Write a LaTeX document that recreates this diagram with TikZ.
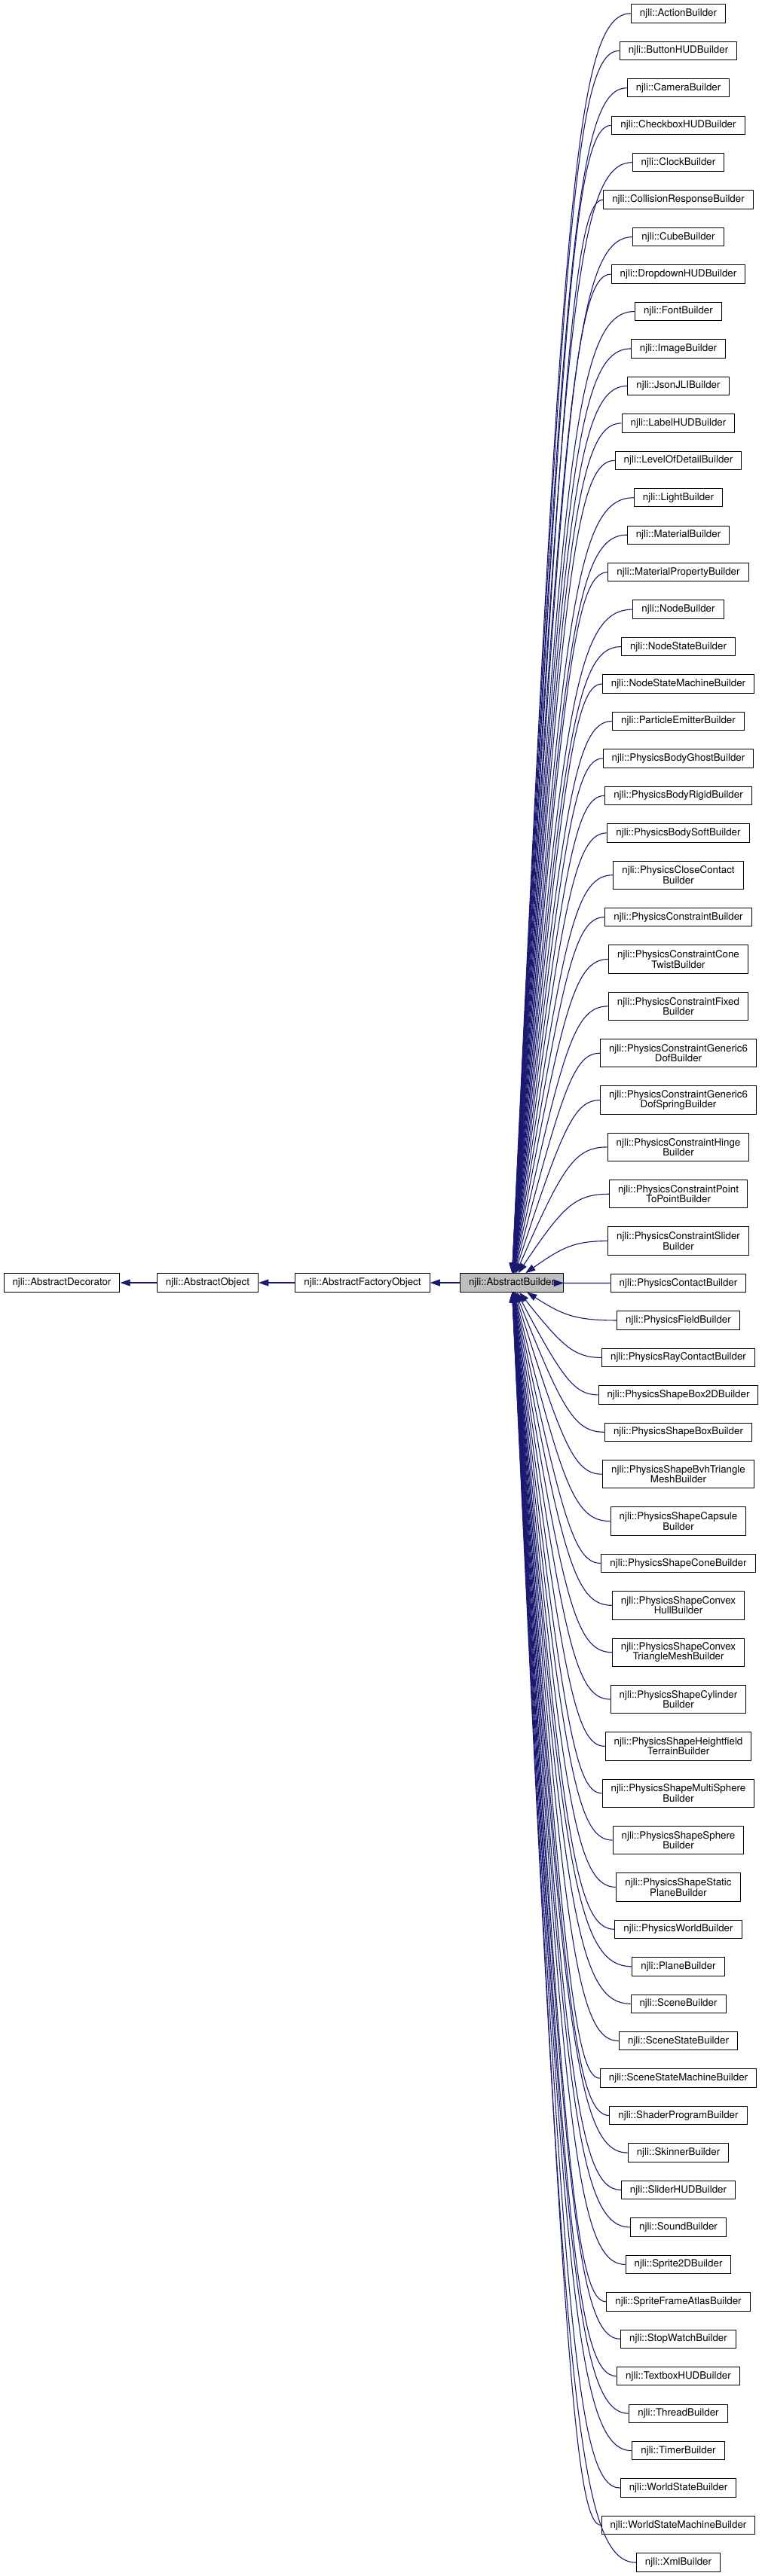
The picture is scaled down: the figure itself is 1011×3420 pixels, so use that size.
\documentclass[tikz,border=0pt]{standalone}
\usepackage{fontspec}
\setmainfont{TeX Gyre Heros}
\usetikzlibrary{arrows.meta}
\definecolor{edgeblue}{HTML}{191970}
\definecolor{currentgrey}{HTML}{BFBFBF}

\begin{document}
\begin{tikzpicture}[x=1pt, y=-1pt,
    classbox/.style={draw=black, line width=1pt, fill=white, align=center,
      inner xsep=11.5pt, inner ysep=2pt, minimum height=24.4pt,
      font=\fontsize{13.33}{13.33}\selectfont},
    current/.style={classbox, fill=currentgrey},
    inherit/.style={edgeblue, line width=1.1pt,
      {Triangle[length=13.3pt, width=9pt]}-}]

  \useasboundingbox (0,0) rectangle (1011,3420);

  %% the chain of base classes
  \node[classbox] (decorator) at (82,1703) {njli::AbstractDecorator};
  \node[classbox] (object) at (275.5,1703) {njli::AbstractObject};
  \node[classbox] (factory) at (481,1703) {njli::AbstractFactoryObject};
  \node[current] (builder) at (679,1703) {njli::AbstractBuilder};

  \draw[inherit] (decorator) -- (object);
  \draw[inherit] (object) -- (factory);
  \draw[inherit] (factory) -- (builder);

  %% the derived builders, stacked from the top edge down
  \def\childy{5.7}
  \foreach \nm/\txt/\nl in {
    action/{ActionBuilder}/1, buttonhud/{ButtonHUDBuilder}/1,
    camera/{CameraBuilder}/1, checkboxhud/{CheckboxHUDBuilder}/1,
    clock/{ClockBuilder}/1, collision/{CollisionResponseBuilder}/1,
    cube/{CubeBuilder}/1, dropdownhud/{DropdownHUDBuilder}/1,
    font/{FontBuilder}/1, image/{ImageBuilder}/1,
    jsonjli/{JsonJLIBuilder}/1, labelhud/{LabelHUDBuilder}/1,
    lod/{LevelOfDetailBuilder}/1, light/{LightBuilder}/1,
    material/{MaterialBuilder}/1, matprop/{MaterialPropertyBuilder}/1,
    nodeb/{NodeBuilder}/1, nodestate/{NodeStateBuilder}/1,
    nodesm/{NodeStateMachineBuilder}/1, particle/{ParticleEmitterBuilder}/1,
    ghost/{PhysicsBodyGhostBuilder}/1, rigid/{PhysicsBodyRigidBuilder}/1,
    soft/{PhysicsBodySoftBuilder}/1, closecontact/{PhysicsCloseContact\\Builder}/2,
    constraint/{PhysicsConstraintBuilder}/1, conetwist/{PhysicsConstraintCone\\TwistBuilder}/2,
    fixed/{PhysicsConstraintFixed\\Builder}/2, gensix/{PhysicsConstraintGeneric6\\DofBuilder}/2,
    gensixspring/{PhysicsConstraintGeneric6\\DofSpringBuilder}/2,
    hinge/{PhysicsConstraintHinge\\Builder}/2, ptp/{PhysicsConstraintPoint\\ToPointBuilder}/2,
    slider/{PhysicsConstraintSlider\\Builder}/2, contact/{PhysicsContactBuilder}/1,
    field/{PhysicsFieldBuilder}/1, raycontact/{PhysicsRayContactBuilder}/1,
    boxtwod/{PhysicsShapeBox2DBuilder}/1, box/{PhysicsShapeBoxBuilder}/1,
    bvh/{PhysicsShapeBvhTriangle\\MeshBuilder}/2, capsule/{PhysicsShapeCapsule\\Builder}/2,
    cone/{PhysicsShapeConeBuilder}/1, convexhull/{PhysicsShapeConvex\\HullBuilder}/2,
    convextri/{PhysicsShapeConvex\\TriangleMeshBuilder}/2,
    cylinder/{PhysicsShapeCylinder\\Builder}/2,
    heightfield/{PhysicsShapeHeightfield\\TerrainBuilder}/2,
    multisphere/{PhysicsShapeMultiSphere\\Builder}/2,
    sphere/{PhysicsShapeSphere\\Builder}/2, staticplane/{PhysicsShapeStatic\\PlaneBuilder}/2,
    world/{PhysicsWorldBuilder}/1, plane/{PlaneBuilder}/1,
    scene/{SceneBuilder}/1, scenestate/{SceneStateBuilder}/1,
    scenesm/{SceneStateMachineBuilder}/1, shader/{ShaderProgramBuilder}/1,
    skinner/{SkinnerBuilder}/1, sliderhud/{SliderHUDBuilder}/1,
    sound/{SoundBuilder}/1, spritetwod/{Sprite2DBuilder}/1,
    atlas/{SpriteFrameAtlasBuilder}/1, stopwatch/{StopWatchBuilder}/1,
    textboxhud/{TextboxHUDBuilder}/1, thread/{ThreadBuilder}/1,
    timer/{TimerBuilder}/1, worldstate/{WorldStateBuilder}/1,
    worldsm/{WorldStateMachineBuilder}/1, xml/{XmlBuilder}/1}{
    \pgfmathsetmacro\hh{\nl==1 ? 24.4 : 37.3}
    \pgfmathsetmacro\cy{\childy+\hh/2}
    \node[classbox, minimum height=\hh] (\nm) at (900,\cy) {njli::\txt};
    %% spline: steep run out of the base class, then a bend into the child
    \pgfmathsetmacro\px{679+0.85*(758-679)}
    \pgfmathsetmacro\py{1703+0.85*(\cy-1703)}
    \draw[inherit] (builder) .. controls (\px,\py) and (762,\cy) .. (\nm.west);
    \pgfmathsetmacro\ny{\childy+\hh+25.05}
    \global\let\childy\ny
  }

\end{tikzpicture}
\end{document}
